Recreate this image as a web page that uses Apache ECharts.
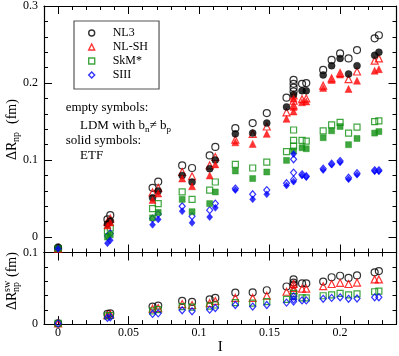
<!DOCTYPE html>
<html>
<head>
<meta charset="utf-8">
<script src="https://cdn.jsdelivr.net/npm/echarts@6/dist/echarts.min.js"></script>
<style>
html, body { margin: 0; padding: 0; background: #fff; }
#main { width: 399px; height: 356px; }
</style>
</head>
<body>
<div id="main"></div>
<script>
// isospin asymmetry I of each nucleus (columns)
var iVals = [0, 0.035, 0.037, 0.067, 0.071, 0.088, 0.095, 0.1075, 0.1115, 0.1257, 0.138, 0.148,
  0.162, 0.167, 0.173, 0.176, 0.188, 0.194, 0.2, 0.206, 0.212, 0.2245, 0.2275];

// top panel, empty symbols (LDM with bn != bp)
var nl3Ldm = [-0.015, 0.023, 0.0285, 0.064, 0.072, 0.093, 0.0897, 0.106, 0.117, 0.1414, 0.148, 0.161,
  0.181, [0.204, 0.199, 0.194, 0.189], 0.199, 0.200, 0.217, 0.230, 0.2384, 0.232, 0.2428, 0.258, 0.262];
var nlshLdm = [-0.015, 0.0198, 0.024, 0.058, 0.064, 0.0845, 0.079, 0.093, 0.104, 0.1265, 0.134, 0.1436,
  0.162, [0.184, 0.177, 0.171], 0.179, 0.180, 0.1966, 0.206, 0.213, 0.205, 0.215, 0.229, 0.232];
var skmLdm = [-0.015, 0.008, 0.012, 0.037, 0.0435, 0.0586, 0.049, 0.061, 0.0715, 0.0944, 0.0897, 0.0974,
  0.111, [0.139, 0.1255, 0.118], 0.1255, 0.1246, 0.138, 0.1458, 0.149, 0.135, 0.1427, 0.150, 0.151];
var siiiLdm = [-0.015, 0.0013, 0.0048, 0.024, 0.030, 0.040, 0.027, 0.035, 0.0435, 0.063, 0.0556, 0.061,
  0.070, [0.101, 0.0837, 0.0746], 0.0815, 0.079, 0.0888, 0.0953, 0.0987, 0.077, 0.083, 0.0867, 0.0867];

// top panel, solid symbols (ETF)
var nl3Etf = [-0.013, 0.017, 0.021, 0.051, 0.060, 0.080, 0.0715, 0.0888, 0.100, 0.134, 0.135, 0.148,
  0.169, 0.185, 0.190, 0.190, 0.2105, 0.2225, 0.232, 0.2117, 0.2225, 0.236, 0.240];
var nlshEtf = [-0.015, 0.015, 0.019, 0.048, 0.0565, 0.076, 0.066, 0.080, 0.0944, 0.123, 0.121, 0.134,
  0.1535, [0.180, 0.169, 0.163], 0.175, 0.176, 0.1937, 0.204, 0.211, 0.1923, 0.203, 0.216, 0.218];
var skmEtf = [-0.015, 0.0, 0.003, 0.025, 0.032, 0.049, 0.033, 0.0435, 0.0586, 0.0858, 0.076, 0.0845,
  0.0996, 0.112, 0.116, 0.1147, 0.129, 0.138, 0.1436, 0.120, 0.128, 0.135, 0.137];
var siiiEtf = [-0.015, -0.008, -0.004, 0.016, 0.023, 0.0336, 0.0185, 0.026, 0.038, 0.061, 0.049, 0.0556,
  0.067, [0.108, 0.072], 0.080, 0.078, 0.087, 0.094, 0.097, 0.075, 0.081, 0.0855, 0.0855];

// bottom panel, surface width contribution
var nl3Sw = [0.001, 0.0142, 0.015, 0.0245, 0.0258, 0.0323, 0.031, 0.0344, 0.0366, 0.0439, 0.0443, 0.0473,
  0.0525, [0.0624, 0.058, 0.055], 0.0568, 0.0568, 0.0594, 0.0654, 0.0675, 0.0645, 0.068, 0.0723, 0.074];
var nlshSw = [0.001, 0.0125, 0.0135, 0.0215, 0.0224, 0.028, 0.0267, 0.0292, 0.0323, 0.0366, 0.0366, 0.0396,
  0.0452, [0.056, 0.0507, 0.0473], 0.0495, 0.0495, 0.0529, 0.056, 0.0577, 0.056, 0.058, 0.0624, 0.0624];
var skmSw = [0.001, 0.0116, 0.012, 0.0185, 0.0202, 0.0245, 0.0237, 0.025, 0.0267, 0.030, 0.0292, 0.0314,
  0.0344, [0.043, 0.0387], 0.0366, 0.0366, 0.0396, 0.0409, 0.043, 0.0409, 0.0422, 0.0452, 0.046];
var siiiSw = [0.001, 0.0086, 0.0095, 0.0142, 0.015, 0.0194, 0.018, 0.0202, 0.0224, 0.0267, 0.0245, 0.0267,
  0.030, [0.0387, 0.0344, 0.0314], 0.0331, 0.0331, 0.0353, 0.0366, 0.0374, 0.0353, 0.0357, 0.0374, 0.0374];

// tick labels
var xMajor = [0, 0.05, 0.1, 0.15, 0.2];
var yTopMajor = [0, 0.1, 0.2, 0.3];
var yBotMajor = [0, 0.1];

var FONT = '"Liberation Serif", "DejaVu Serif", serif';
var models = [
  { name: 'NL3', color: '#000000', symbol: 'circle', size: 7 },
  { name: 'NL-SH', color: '#ff0000', symbol: 'triangle', size: 7 },
  { name: 'SkM*', color: '#109010', symbol: 'rect', size: 6 },
  { name: 'SIII', color: '#0000ff', symbol: 'diamond', size: [6, 7] }
];

function pts(vals) {
  var out = [];
  for (var k = 0; k < iVals.length; k++) {
    var v = vals[k];
    if (v == null) continue;
    if (Array.isArray(v)) {
      for (var j = 0; j < v.length; j++) out.push([iVals[k], v[j]]);
    } else {
      out.push([iVals[k], v]);
    }
  }
  return out;
}

function fmt(v) {
  return String(Math.round(v * 100) / 100);
}

// x axes: major (with frame line) + minor, bottom and top, per grid
function xAxes(g, showLabels) {
  var list = [];
  ['bottom', 'top'].forEach(function (pos) {
    list.push({
      type: 'value', gridIndex: g, position: pos, min: -0.01, max: 0.24,
      axisLine: { show: true, onZero: false, lineStyle: { color: '#000', width: 1.2 } },
      axisTick: { show: true, inside: true, length: 8, customValues: xMajor, lineStyle: { color: '#000', width: 1 } },
      axisLabel: { show: showLabels && pos === 'bottom', customValues: xMajor, formatter: fmt, margin: 3,
        fontFamily: FONT, fontSize: 12, color: '#000' },
      splitLine: { show: false },
      name: showLabels && pos === 'bottom' ? 'I' : '', nameLocation: 'middle', nameGap: 14,
      nameTextStyle: { fontFamily: FONT, fontSize: 15, color: '#000' }
    });
    list.push({
      type: 'value', gridIndex: g, position: pos, min: -0.01, max: 0.24, interval: 0.01,
      axisLine: { show: false, onZero: false },
      axisTick: { show: true, inside: true, length: 4, lineStyle: { color: '#000', width: 1 } },
      axisLabel: { show: false },
      splitLine: { show: false }
    });
  });
  return list;
}

function yAxes(g, min, max, major) {
  var list = [];
  ['left', 'right'].forEach(function (pos) {
    list.push({
      type: 'value', gridIndex: g, position: pos, min: min, max: max,
      axisLine: { show: true, onZero: false, lineStyle: { color: '#000', width: 1.2 } },
      axisTick: { show: true, inside: true, length: 8, customValues: major, lineStyle: { color: '#000', width: 1 } },
      axisLabel: { show: pos === 'left', customValues: major, formatter: fmt, margin: 6,
        fontFamily: FONT, fontSize: 12, color: '#000' },
      splitLine: { show: false }
    });
    list.push({
      type: 'value', gridIndex: g, position: pos, min: min, max: max, interval: 0.02,
      axisLine: { show: false, onZero: false },
      axisTick: { show: true, inside: true, length: 4, lineStyle: { color: '#000', width: 1 } },
      axisLabel: { show: false },
      splitLine: { show: false }
    });
  });
  return list;
}

function scatter(m, vals, g, filled) {
  return {
    type: 'scatter', name: m.name, xAxisIndex: g * 4, yAxisIndex: g * 4,
    symbol: m.symbol, symbolSize: m.size, silent: true,
    itemStyle: filled
      ? { color: m.color, borderColor: m.color, borderWidth: 0.5 }
      : { color: 'transparent', borderColor: m.color, borderWidth: 1.2 },
    data: pts(vals)
  };
}

var series = [];
var ldm = [nl3Ldm, nlshLdm, skmLdm, siiiLdm];
var etf = [nl3Etf, nlshEtf, skmEtf, siiiEtf];
var sw = [nl3Sw, nlshSw, skmSw, siiiSw];
models.forEach(function (m, k) { series.push(scatter(m, ldm[k], 0, false)); });
models.forEach(function (m, k) { series.push(scatter(m, etf[k], 0, true)); });
models.forEach(function (m, k) { series.push(scatter(m, sw[k], 1, false)); });

var chart = echarts.init(document.getElementById('main'), null, { renderer: 'canvas' });
chart.setOption({
  animation: false,
  backgroundColor: '#fff',
  grid: [
    { left: 44, top: 5, width: 352.5, height: 247.5 },
    { left: 44, top: 252.5, width: 352.5, height: 77.5 }
  ],
  xAxis: xAxes(0, false).concat(xAxes(1, true)),
  yAxis: yAxes(0, -0.02, 0.3, yTopMajor).concat(yAxes(1, 0, 0.1, yBotMajor)),
  legend: {
    data: ['NL3', 'NL-SH', 'SkM*', 'SIII'],
    orient: 'vertical', left: 74, top: 21,
    itemWidth: 6, itemHeight: 6, itemGap: 2,
    padding: [6, 11, 8, 14],
    borderColor: '#555', borderWidth: 1.2,
    selectedMode: false,
    itemStyle: { borderWidth: 1.4 },
    textStyle: { fontFamily: FONT, fontSize: 12, lineHeight: 12, color: '#000', padding: [0, 0, 0, 13] }
  },
  graphic: [
    { type: 'text', x: 65.7, y: 108, style: { text: 'empty symbols:', fontFamily: FONT, fontSize: 13, fill: '#000', verticalAlign: 'middle' } },
    { type: 'text', x: 80, y: 126, style: { text: 'LDM with b{s|n}\u2260 b{s|p}', fontFamily: FONT, fontSize: 13, fill: '#000', verticalAlign: 'middle',
      rich: { s: { fontFamily: FONT, fontSize: 9, padding: [7, 0, 0, 0] } } } },
    { type: 'text', x: 65.7, y: 141, style: { text: 'solid symbols:', fontFamily: FONT, fontSize: 13, fill: '#000', verticalAlign: 'middle' } },
    { type: 'text', x: 80, y: 156, style: { text: 'ETF', fontFamily: FONT, fontSize: 13, fill: '#000', verticalAlign: 'middle' } },
    {
      type: 'group', x: 12, y: 160, rotation: Math.PI / 2,
      children: [
        { type: 'text', x: 0, y: 0, style: { text: '\u0394R', fontFamily: FONT, fontSize: 14, fill: '#000', verticalAlign: 'middle' } },
        { type: 'text', x: 18, y: 4, style: { text: 'np', fontFamily: FONT, fontSize: 10, fill: '#000', verticalAlign: 'middle' } },
        { type: 'text', x: 36, y: 0, style: { text: '(fm)', fontFamily: FONT, fontSize: 14, fill: '#000', verticalAlign: 'middle' } }
      ]
    },
    {
      type: 'group', x: 12, y: 310, rotation: Math.PI / 2,
      children: [
        { type: 'text', x: 0, y: 0, style: { text: '\u0394R', fontFamily: FONT, fontSize: 14, fill: '#000', verticalAlign: 'middle' } },
        { type: 'text', x: 18, y: -4.5, style: { text: 'sw', fontFamily: FONT, fontSize: 10, fill: '#000', verticalAlign: 'middle' } },
        { type: 'text', x: 18, y: 4, style: { text: 'np', fontFamily: FONT, fontSize: 10, fill: '#000', verticalAlign: 'middle' } },
        { type: 'text', x: 33, y: 0, style: { text: '(fm)', fontFamily: FONT, fontSize: 14, fill: '#000', verticalAlign: 'middle' } }
      ]
    }
  ],
  series: series
});
</script>
</body>
</html>
